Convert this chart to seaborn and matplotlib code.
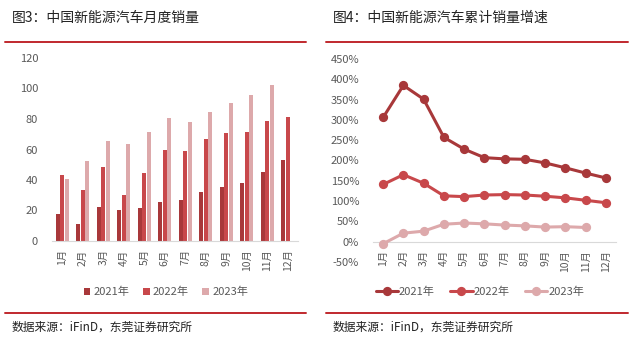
import numpy as np
import pandas as pd
import matplotlib
matplotlib.use("Agg")
import matplotlib.pyplot as plt
import seaborn as sns
from matplotlib.lines import Line2D
from matplotlib.ticker import FuncFormatter

months = ["1月", "2月", "3月", "4月", "5月", "6月", "7月", "8月", "9月", "10月", "11月", "12月"]
years = ["2021年", "2022年", "2023年"]

sales_2021 = [17.9, 11.0, 22.6, 20.6, 21.7, 25.6, 27.1, 32.1, 35.7, 38.3, 45.0, 53.1]
sales_2022 = [43.1, 33.4, 48.4, 29.9, 44.7, 59.6, 59.3, 66.6, 70.8, 71.4, 78.6, 81.4]
sales_2023 = [40.8, 52.5, 65.3, 63.6, 71.7, 80.6, 78.0, 84.6, 90.4, 95.6, 102.6]

growth_2021 = [306, 385, 351, 257, 228, 207, 204, 203, 194, 182, 169, 157]
growth_2022 = [141, 165, 144, 113, 111, 115, 116, 115, 112, 108, 102, 96]
growth_2023 = [-5, 21, 26, 43, 46, 44, 41, 39, 36, 37, 35]

colors = ["#A8383A", "#C8484B", "#DDA9AB"]
grey = "#595959"

sns.set_theme(style="white")
plt.rcParams["font.family"] = ["Noto Sans CJK SC", "DejaVu Sans"]

def long_df(series_list):
    rows = []
    for y, vals in zip(years, series_list):
        for m, v in zip(months, vals):
            rows.append({"month": m, "year": y, "value": v})
    return pd.DataFrame(rows)

df_sales = long_df([sales_2021, sales_2022, sales_2023])
df_growth = long_df([growth_2021, growth_2022, growth_2023])

W, H = 642, 344
fig = plt.figure(figsize=(W / 100, H / 100), dpi=100)

def px_axes(l, t, r, b):
    return fig.add_axes([l / W, 1 - b / H, (r - l) / W, (b - t) / H])

tick_fs = 7.5

# Left bar chart
ax1 = px_axes(52, 58, 298, 241)
sns.barplot(data=df_sales, x="month", y="value", hue="year", order=months,
            hue_order=years, palette=colors, width=0.66, gap=0.12,
            saturation=1, linewidth=0, ax=ax1, legend=True)
ax1.set_ylim(0, 120)
ax1.set_yticks(range(0, 121, 20))
ax1.set_xlim(-0.5, 11.5)
ax1.set_xlabel("")
ax1.set_ylabel("")
for s in ["top", "right", "left"]:
    ax1.spines[s].set_visible(False)
ax1.spines["bottom"].set_color("#D9D9D9")
ax1.spines["bottom"].set_linewidth(0.8)
ax1.tick_params(axis="y", length=0, labelsize=8, labelcolor=grey, pad=10)
ax1.tick_params(axis="x", length=0, labelsize=tick_fs, labelcolor=grey, rotation=90, pad=6)
h1, l1 = ax1.get_legend_handles_labels()
ax1.get_legend().remove()
fig.legend(h1, l1, loc="center", bbox_to_anchor=(166 / W, 1 - 292 / H), ncol=3,
           frameon=False, fontsize=8, labelcolor=grey, handlelength=0.6,
           handleheight=0.6, handletextpad=0.3, columnspacing=1.2)

# Right line chart
ax2 = px_axes(373, 59, 616, 262)
sns.pointplot(data=df_growth, x="month", y="value", hue="year", order=months,
              hue_order=years, palette=colors, markers="o", markersize=5,
              linewidth=2.2, ax=ax2, legend=True)
ax2.set_ylim(-50, 450)
ax2.set_yticks(range(-50, 451, 50))
ax2.set_xlim(-0.5, 11.5)
ax2.set_xlabel("")
ax2.set_ylabel("")
ax2.yaxis.set_major_formatter(FuncFormatter(lambda v, p: f"{int(v)}%"))
for s in ["top", "right", "left"]:
    ax2.spines[s].set_visible(False)
ax2.spines["bottom"].set_position(("data", 0))
ax2.spines["bottom"].set_color("#D9D9D9")
ax2.spines["bottom"].set_linewidth(0.8)
ax2.spines["bottom"].set_zorder(0)
ax2.tick_params(axis="y", length=0, labelsize=8, labelcolor=grey, pad=10)
ax2.tick_params(axis="x", length=0, labelsize=tick_fs, labelcolor=grey, rotation=90, pad=6)
h2, l2 = ax2.get_legend_handles_labels()
ax2.get_legend().remove()
fig.legend(h2, l2, loc="center", bbox_to_anchor=(480 / W, 1 - 292 / H), ncol=3,
           frameon=False, fontsize=8, labelcolor=grey, handlelength=2.0,
           handletextpad=0.1, columnspacing=1.4, numpoints=1)

# Titles, rules and sources
red = "#C0282D"
for x0, x1 in [(5, 306), (326, 628)]:
    fig.add_artist(Line2D([x0 / W, x1 / W], [1 - 42 / H] * 2, color=red, linewidth=1.4))
    fig.add_artist(Line2D([x0 / W, x1 / W], [1 - 313 / H] * 2, color=red, linewidth=1.4))

fig.text(12 / W, 1 - 18 / H, "图3：中国新能源汽车月度销量", fontsize=10, color="#222222", va="center")
fig.text(333 / W, 1 - 18 / H, "图4：中国新能源汽车累计销量增速", fontsize=10, color="#222222", va="center")
fig.text(12 / W, 1 - 327 / H, "数据来源：iFinD，东莞证券研究所", fontsize=8.5, color="#222222", va="center")
fig.text(333 / W, 1 - 327 / H, "数据来源：iFinD，东莞证券研究所", fontsize=8.5, color="#222222", va="center")

fig.savefig("out.png", dpi=100)
